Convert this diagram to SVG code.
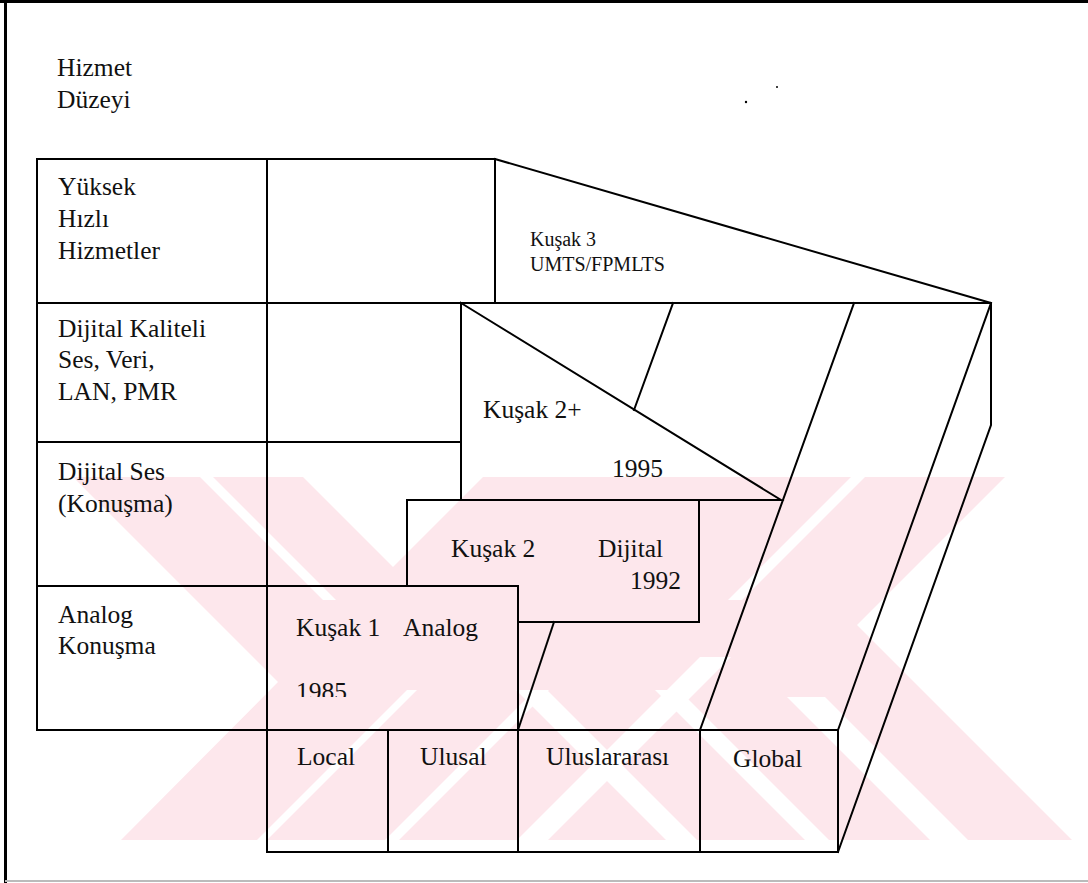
<svg xmlns="http://www.w3.org/2000/svg" width="1088" height="883" viewBox="0 0 1088 883">
  <style>
    .ln { stroke: #000; stroke-width: 2; fill: none; stroke-linecap: square; }
    .tx { font-family: "Liberation Serif", "Times New Roman", serif; font-size: 25.5px; fill: #111; }
    .sm { font-family: "Liberation Serif", "Times New Roman", serif; font-size: 20px; fill: #111; }
    .wm { fill: #fde7ec; }
    .gap { fill: #fff; }
  </style>
  <defs>
    <clipPath id="band"><rect x="0" y="477" width="1088" height="363"/></clipPath>
    <clipPath id="cut1985"><rect x="280" y="660" width="100" height="37"/></clipPath>
  </defs>

  <rect x="0" y="0" width="1088" height="883" fill="#fff"/>

  <!-- background stamp: pink band with diagonal openings -->
  <g id="stamp" clip-path="url(#band)">
    <polygon class="wm" points="73,477 303,477 393,567 483,477 1005,477 857,625 1072,840 121,840 278,682"/>
    <polygon class="gap" points="257,840 267,840 417,690 407,690"/>
    <polygon class="gap" points="385,840 399,840 549,690 535,690"/>
    <polygon class="gap" points="517,840 548,840 731,657 700,657"/>
    <polygon class="gap" points="666,840 697,840 547,690 516,690"/>
    <polygon class="gap" points="805,840 829,840 679,690 655,690"/>
    <polygon class="gap" points="930,840 968,840 825,697 787,697"/>
    <polygon class="gap" points="200,477 213,477 336,600 323,600"/>
    <polygon class="gap" points="851,477 865,477 742,600 728,600"/>
  </g>

  <!-- page frame -->
  <g id="frame">
    <line x1="0" y1="1.5" x2="1088" y2="1.5" stroke="#000" stroke-width="3"/>
    <line x1="5.5" y1="0" x2="5.5" y2="883" stroke="#000" stroke-width="3"/>
    <line x1="5" y1="881" x2="1088" y2="881" stroke="#bbb" stroke-width="2"/>
    <circle cx="746" cy="102" r="1.2" fill="#000"/>
    <circle cx="777" cy="87" r="1" fill="#000"/>
  </g>

  <text class="tx" x="57" y="76">Hizmet</text>
  <text class="tx" x="57" y="108">Düzeyi</text>

  <!-- service level rows -->
  <g id="row-yuksek">
    <rect class="ln" x="37" y="159" width="230" height="144"/>
    <text class="tx" x="58" y="195">Yüksek</text>
    <text class="tx" x="58" y="227">Hızlı</text>
    <text class="tx" x="58" y="259">Hizmetler</text>
  </g>
  <g id="row-kaliteli">
    <rect class="ln" x="37" y="303" width="230" height="139"/>
    <text class="tx" x="58" y="337">Dijital Kaliteli</text>
    <text class="tx" x="58" y="368">Ses, Veri,</text>
    <text class="tx" x="58" y="400">LAN, PMR</text>
  </g>
  <g id="row-dijital-ses">
    <rect class="ln" x="37" y="442" width="230" height="144"/>
    <text class="tx" x="58" y="480">Dijital Ses</text>
    <text class="tx" x="58" y="512">(Konuşma)</text>
  </g>
  <g id="row-analog">
    <rect class="ln" x="37" y="586" width="230" height="144"/>
    <text class="tx" x="58" y="623">Analog</text>
    <text class="tx" x="58" y="654">Konuşma</text>
  </g>

  <!-- empty cells of the middle column -->
  <g id="cells">
    <rect class="ln" x="267" y="159" width="228" height="144"/>
    <polyline class="ln" points="267,303 461,303 461,500"/>
    <line class="ln" x1="267" y1="442" x2="461" y2="442"/>
  </g>

  <!-- generation 3 -->
  <g id="kusak3">
    <polyline class="ln" points="495,159 991,303 495,303"/>
    <text class="sm" x="530" y="246">Kuşak 3</text>
    <text class="sm" x="530" y="271">UMTS/FPMLTS</text>
  </g>

  <!-- generation 2+ -->
  <g id="kusak2plus">
    <polygon class="ln" points="461,303 781,500 461,500"/>
    <text class="tx" x="483" y="418">Kuşak 2+</text>
    <text class="tx" x="612" y="477">1995</text>
  </g>

  <!-- generation 2 -->
  <g id="kusak2">
    <polyline class="ln" points="407,586 407,500 699,500 699,622 518,622"/>
    <text class="tx" x="451" y="557">Kuşak 2</text>
    <text class="tx" x="598" y="557">Dijital</text>
    <text class="tx" x="630" y="589">1992</text>
  </g>

  <!-- generation 1 -->
  <g id="kusak1">
    <rect class="ln" x="267" y="586" width="251" height="144"/>
    <text class="tx" x="296" y="636">Kuşak 1</text>
    <text class="tx" x="403" y="636">Analog</text>
    <text class="tx" x="296" y="700" clip-path="url(#cut1985)">1985</text>
  </g>

  <!-- coverage axis -->
  <g id="axis-local">
    <rect class="ln" x="267" y="730" width="121" height="122"/>
    <text class="tx" x="297" y="765">Local</text>
  </g>
  <g id="axis-ulusal">
    <rect class="ln" x="388" y="730" width="130" height="122"/>
    <text class="tx" x="420" y="765">Ulusal</text>
  </g>
  <g id="axis-uluslararasi">
    <rect class="ln" x="518" y="730" width="182" height="122"/>
    <text class="tx" x="546" y="765">Uluslararası</text>
  </g>
  <g id="axis-global">
    <rect class="ln" x="700" y="730" width="138" height="122"/>
    <text class="tx" x="733" y="767">Global</text>
  </g>

  <!-- depth edges -->
  <g id="connectors">
    <line class="ln" x1="518" y1="730" x2="554" y2="622"/>
    <line class="ln" x1="700" y1="730" x2="854" y2="303"/>
    <line class="ln" x1="838" y1="730" x2="991" y2="303"/>
    <polyline class="ln" points="838,852 991,425 991,303"/>
    <line class="ln" x1="634" y1="410" x2="673" y2="303"/>
  </g>
</svg>
